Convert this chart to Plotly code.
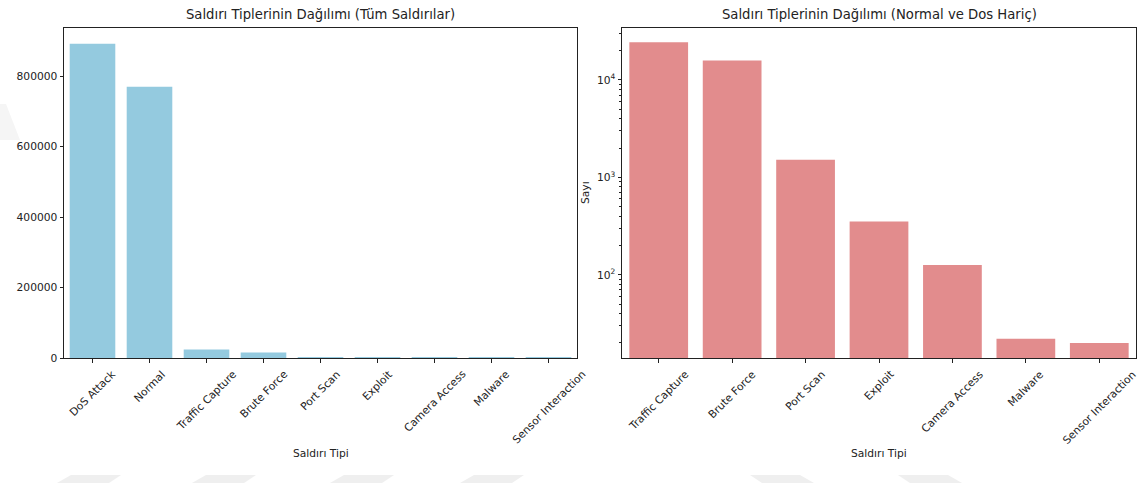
import plotly.graph_objects as go

# Attack-type counts (all records)
all_types = ["DoS Attack", "Normal", "Traffic Capture", "Brute Force", "Port Scan",
             "Exploit", "Camera Access", "Malware", "Sensor Interaction"]
all_counts = [892000, 770000, 24400, 15800, 1520, 352, 126, 22, 20]

# Attack-type counts without Normal and DoS
sub_types = ["Traffic Capture", "Brute Force", "Port Scan", "Exploit",
             "Camera Access", "Malware", "Sensor Interaction"]
sub_counts = [24400, 15800, 1520, 352, 126, 22, 20]

left_ticks = [0, 200000, 400000, 600000, 800000]
log_ticks = [100, 1000, 10000]
log_tick_text = ["10<sup>2</sup>", "10<sup>3</sup>", "10<sup>4</sup>"]

title_left = "Saldırı Tiplerinin Dağılımı (Tüm Saldırılar)"
title_right = "Saldırı Tiplerinin Dağılımı (Normal ve Dos Hariç)"
x_title = "Saldırı Tipi"
y_title = "Sayı"

W, H = 1142, 483
FONT = "DejaVu Sans"
INK = "#222222"
BLUE = "#94CADF"
CORAL = "#E28C8D"
TICK_SIZE = 10.7
TITLE_SIZE = 13.2


def px_x(p):
    return p / W


def px_y(p):
    return 1 - p / H


fig = go.Figure()
fig.add_trace(go.Bar(x=all_types, y=all_counts, width=0.8, marker_color=BLUE,
                     marker_line_width=0, xaxis="x", yaxis="y", hoverinfo="x+y"))
fig.add_trace(go.Bar(x=sub_types, y=sub_counts, width=0.8, marker_color=CORAL,
                     marker_line_width=0, xaxis="x2", yaxis="y2", hoverinfo="x+y"))

axis_common = dict(showgrid=False, zeroline=False, showline=True, mirror=True,
                   linecolor=INK, linewidth=1, ticks="outside", ticklen=3.5,
                   tickwidth=0.8, tickcolor=INK, automargin=False,
                   tickfont=dict(family=FONT, size=TICK_SIZE, color=INK))

top, bottom = 28, 358
minor_vals = [k * 10 ** e for e in range(1, 5) for k in range(2, 10)]

fig.update_layout(
    width=W, height=H, autosize=False,
    margin=dict(l=0, r=0, t=0, b=0),
    paper_bgcolor="white", plot_bgcolor="white",
    showlegend=False, bargap=0.2,
    font=dict(family=FONT, size=TICK_SIZE, color=INK),
    xaxis=dict(axis_common, domain=[px_x(64), px_x(577)], range=[-0.5, len(all_types) - 0.5],
               type="category", showticklabels=False, anchor="y"),
    yaxis=dict(axis_common, domain=[px_y(bottom), px_y(top)],
               range=[0, max(all_counts) * 1.05], tickvals=left_ticks, tickformat="d",
               anchor="x"),
    xaxis2=dict(axis_common, domain=[px_x(622), px_x(1136)], range=[-0.5, len(sub_types) - 0.5],
                type="category", showticklabels=False, anchor="y2"),
    yaxis2=dict(axis_common, domain=[px_y(bottom), px_y(top)], type="log",
                range=[1.146, 4.533], tickvals=log_ticks, ticktext=log_tick_text,
                minor=dict(ticks="outside", ticklen=2, tickwidth=0.6, tickcolor=INK,
                           tickvals=minor_vals, showgrid=False),
                anchor="x2"),
)

ann = []
# rotated category labels, centred under each tick
for xref, cats in (("x", all_types), ("x2", sub_types)):
    for c in cats:
        ann.append(dict(x=c, xref=xref, y=px_y(365), yref="paper", text=c,
                        textangle=-45, xanchor="center", yanchor="top",
                        showarrow=False, font=dict(family=FONT, size=TICK_SIZE, color=INK)))

# subplot titles
ann.append(dict(x=px_x(320.5), y=px_y(15), xref="paper", yref="paper", text=title_left,
                showarrow=False, xanchor="center", yanchor="middle",
                font=dict(family=FONT, size=TITLE_SIZE, color=INK)))
ann.append(dict(x=px_x(879), y=px_y(15), xref="paper", yref="paper", text=title_right,
                showarrow=False, xanchor="center", yanchor="middle",
                font=dict(family=FONT, size=TITLE_SIZE, color=INK)))
# axis titles
for cx in (320.5, 879):
    ann.append(dict(x=px_x(cx), y=px_y(453), xref="paper", yref="paper", text=x_title,
                    showarrow=False, xanchor="center", yanchor="middle",
                    font=dict(family=FONT, size=TICK_SIZE, color=INK)))
ann.append(dict(x=px_x(585), y=px_y(193), xref="paper", yref="paper", text=y_title,
                textangle=-90, showarrow=False, xanchor="center", yanchor="middle",
                font=dict(family=FONT, size=TICK_SIZE, color=INK)))
fig.update_layout(annotations=ann)

# faint page watermark stripes
shapes = []


def poly(pts, color="#efefef"):
    d = "M " + " L ".join(f"{px_x(x)},{px_y(y)}" for x, y in pts) + " Z"
    return dict(type="path", path=d, xref="paper", yref="paper",
                fillcolor=color, line=dict(width=0), layer="below")


for x0 in (57, 192, 330, 460):
    shapes.append(poly([(x0 + 14, 475), (x0 + 64, 475), (x0 + 52, 483), (x0, 483)]))
for x0 in (750, 898):
    shapes.append(poly([(x0, 475), (x0 + 50, 475), (x0 + 64, 483), (x0 + 12, 483)]))
shapes.append(poly([(0, 104), (6, 104), (20, 140), (0, 140)], color="#f5f5f5"))
fig.update_layout(shapes=shapes)

fig.write_html("out.html")
